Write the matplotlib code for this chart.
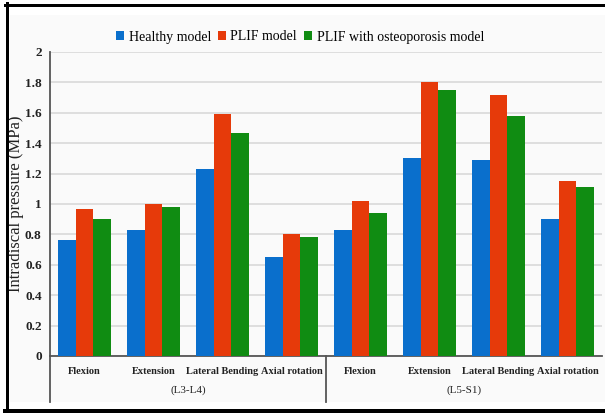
import numpy as np
import matplotlib.pyplot as plt
from matplotlib.lines import Line2D
from matplotlib.patches import Rectangle
import matplotlib.transforms as mtransforms

plt.rcParams['font.family'] = ['Liberation Serif', 'DejaVu Serif']

# intradiscal pressure (MPa) per motion, two segments
motions = ['Flexion', 'Extension', 'Lateral Bending', 'Axial rotation']
segments = ['(L3-L4)', '(L5-S1)']
healthy = [0.76, 0.83, 1.23, 0.65, 0.83, 1.30, 1.29, 0.90]
plif = [0.97, 1.00, 1.59, 0.80, 1.02, 1.80, 1.72, 1.15]
plif_osteo = [0.90, 0.98, 1.47, 0.78, 0.94, 1.75, 1.58, 1.11]
series_names = ['Healthy model', 'PLIF model', 'PLIF with osteoporosis model']
colors = ['#0a6fcc', '#e63a0a', '#108c12']

W, H = 605, 413
fig = plt.figure(figsize=(W / 100, H / 100), dpi=100)

# light panel and black frame
fig.patches.append(Rectangle((10 / W, (H - 402) / H), (W - 10) / W, (402 - 15) / H,
                             transform=fig.transFigure, facecolor='#fafafa',
                             edgecolor='none', zorder=-5))
fig.lines.append(Line2D([6.5 / W, 6.5 / W], [0, 1 - 3 / H], transform=fig.transFigure,
                        color='black', lw=3 * 0.72))
fig.lines.append(Line2D([5 / W, 1], [1 - 4.5 / H, 1 - 4.5 / H], transform=fig.transFigure,
                        color='black', lw=3 * 0.72))
fig.lines.append(Line2D([5 / W, 1], [1 - 410.5 / H, 1 - 410.5 / H], transform=fig.transFigure,
                        color='black', lw=5 * 0.72))

ax = fig.add_axes([50 / W, 1 - 356 / H, (602 - 50) / W, (356 - 52) / H])
ax.set_facecolor('none')

x = np.arange(len(healthy))
bw = 0.26
for i, (vals, name, c) in enumerate(zip([healthy, plif, plif_osteo], series_names, colors)):
    ax.bar(x + (i - 1) * bw, vals, width=bw, color=c, label=name, zorder=3)

ax.set_xlim(-0.5, len(healthy) - 0.5)
ax.set_ylim(0, 2)
ax.set_yticks(np.arange(0, 2.01, 0.2))
ax.set_yticklabels(['0', '0.2', '0.4', '0.6', '0.8', '1', '1.2', '1.4', '1.6', '1.8', '2'],
                   fontsize=9.5, fontweight='bold', color='#222222')
ax.yaxis.grid(True, color='#dcdcdc', lw=1.3, zorder=0)
ax.set_axisbelow(True)
ax.tick_params(axis='y', length=0, pad=6)
ax.tick_params(axis='x', length=0, pad=8)
ax.set_xticks(x)
ax.set_xticklabels(motions * 2, fontsize=7.5, fontweight='bold', color='#222222')

for s in ['top', 'right']:
    ax.spines[s].set_visible(False)
for s in ['left', 'bottom']:
    ax.spines[s].set_color('#555555')
    ax.spines[s].set_linewidth(1.3)

ax.set_ylabel('Intradiscal pressure (MPa)', fontsize=12, color='#222222')
ax.yaxis.set_label_coords(-26 / (602 - 50), 0.5)

# segment separators and segment labels below the motion labels
trans = mtransforms.blended_transform_factory(ax.transData, ax.transAxes)
drop = (402 - 356) / (356 - 52)
for xs in [-0.5, 3.5]:
    ax.plot([xs, xs], [0, -drop], transform=trans, color='#555555', lw=1.3, clip_on=False)
for k, seg in enumerate(segments):
    ax.text(k * 4 + 1.5, -(390 - 356) / (356 - 52), seg, transform=trans,
            ha='center', va='center', fontsize=8, color='#222222')

fig.legend(loc='center', bbox_to_anchor=(300 / W, 1 - 37 / H), ncol=3, frameon=False,
           fontsize=10, handlelength=0.6, handleheight=0.6, handletextpad=0.3,
           columnspacing=0.5, borderpad=0)

fig.savefig('out.png', dpi=100)
